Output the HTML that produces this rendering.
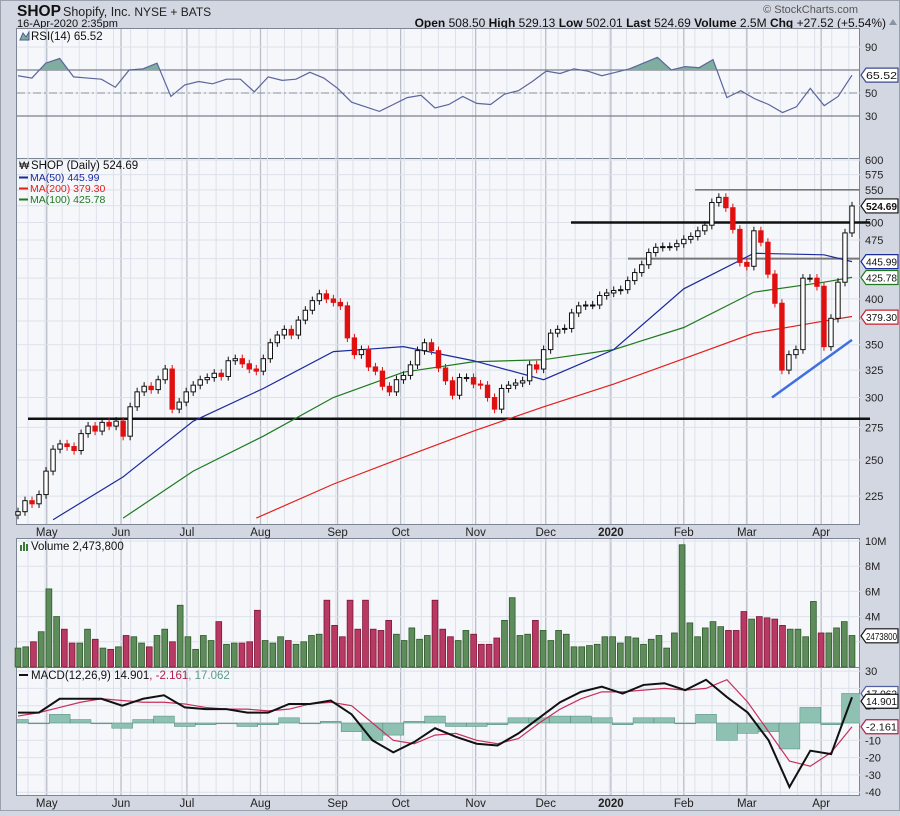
<!DOCTYPE html>
<html><head><meta charset="utf-8">
<style>
html,body{margin:0;padding:0;background:#d3d7e1;}
body{width:900px;height:811px;overflow:hidden;font-family:"Liberation Sans",sans-serif;}
svg text{font-family:"Liberation Sans",sans-serif;}
</style></head>
<body>
<svg id="chart" width="900" height="811" viewBox="0 0 900 811" xmlns="http://www.w3.org/2000/svg">
<rect x="0.5" y="0.5" width="899" height="810" fill="#d3d7e1" stroke="#9aa0ad"/>
<text x="17" y="16" font-size="15.5" font-weight="bold" fill="#111">SHOP</text>
<text x="63" y="16" font-size="12.5" fill="#222">Shopify, Inc. <tspan font-size="12">NYSE + BATS</tspan></text>
<text x="17" y="27" font-size="11" fill="#111">16-Apr-2020 2:35pm</text>
<text x="886" y="27" font-size="12" fill="#111" text-anchor="end"><tspan font-weight="bold">Open</tspan> 508.50  <tspan font-weight="bold">High</tspan> 529.13  <tspan font-weight="bold">Low</tspan> 502.01  <tspan font-weight="bold">Last</tspan> 524.69  <tspan font-weight="bold">Volume</tspan> 2.5M  <tspan font-weight="bold">Chg</tspan> +27.52 (+5.54%)</text>
<path d="M889 25 L897 25 L893 19 Z" fill="#8a93a6"/>
<text x="858" y="13" font-size="11" fill="#555" text-anchor="end">© StockCharts.com</text>
<g id="layers"></g>
</svg>
<script>
// ---------- data ----------
const priceClose = [215,222,220,226,242,258,262,260,257,270,276,272,279,276,280,268,292,305,310,307,316,326,290,296,305,311,316,318,322,319,334,336,331,326,324,336,352,360,366,360,376,387,398,406,400,396,392,357,340,345,328,324,310,305,316,320,330,344,352,344,327,315,302,318,318,312,311,300,290,308,311,313,315,330,326,345,362,366,367,384,392,393,393,404,407,410,411,422,432,442,458,465,466,466,470,476,480,488,496,530,538,522,490,445,440,488,472,430,395,325,340,345,425,425,415,348,378,420,485,524.69];
const ma50Idx = [5,15,25,35,45,55,65,75,85,95,105,115,119];
const ma50 = [210,238,280,308,343,348,334,316,345,412,457,455,446];
const ma100Idx = [15,25,35,45,55,65,75,85,95,105,115,119];
const ma100 = [211,242,268,300,323,333,335,345,368,408,420,426];
const ma200Idx = [34,45,55,65,75,85,95,105,115,119];
const ma200 = [211,233,252,272,292,312,336,362,375,380];
const rsi = [65,63,76,80,64,63,62,55,70,71,76,47,57,60,58,62,62,51,64,61,62,68,63,54,42,38,34,40,46,48,37,40,47,41,40,49,52,60,69,67,71,69,65,68,71,76,81,70,73,72,79,46,52,45,40,33,38,54,39,47,65.5];
const volume = [1.5,1.6,2.0,2.8,6.2,4.0,3.0,1.9,1.9,3.0,2.2,1.5,1.4,1.6,2.5,2.4,1.9,1.6,2.5,3.0,2.0,4.9,2.4,1.4,2.5,2.1,3.6,1.8,1.9,1.9,2.0,4.5,2.1,1.9,2.4,2.1,1.8,2.0,2.5,2.6,5.3,3.3,2.4,5.3,3.0,5.3,3.0,2.9,3.7,2.6,2.1,3.1,2.2,2.5,5.3,3.0,2.4,2.1,2.9,2.6,1.8,1.8,2.3,3.7,5.5,2.5,2.6,3.7,2.9,2.1,2.9,2.6,1.6,1.6,1.7,1.8,2.4,2.4,1.9,2.4,2.3,1.8,2.2,2.5,1.5,2.7,9.7,3.5,2.4,3.1,3.6,3.2,2.9,2.9,4.4,3.8,4.0,3.9,3.8,3.3,3.0,3.0,2.4,5.2,2.7,2.7,3.1,3.6,2.5];
const macd = [6,6,14,14,14,10,14,16,9,8,8,6,6,11,11,13,5,-10,-17,-11,-3,-8,-12,-13,-6,3,12,18,21,17,22,23,19,25,15,6,-10,-37,-16,-18,14.9];
const signal = [4,6,9,12,14,13,12,12,11,9,8,8,7,8,11,12,10,0,-10,-12,-7,-6,-10,-12,-9,0,8,14,18,18,19,20,19,20,25,12,-5,-22,-25,-17,-2.16];
const monthIdx = [4.1,14.7,24.1,34.6,45.6,54.6,65.3,75.3,84.6,95,104,114.6];
const monthLabels = ["May","Jun","Jul","Aug","Sep","Oct","Nov","Dec","2020","Feb","Mar","Apr"];
const priceTicks = [600,575,550,525,500,475,450,425,400,375,350,325,300,275,250,225];
const rsiTicks = [90,70,50,30];
const volTicks = [10,8,6,4,2];
const macdTicks = [30,20,10,0,-10,-20,-30,-40];

// ---------- geometry ----------
const L=17, R=860;
const X0=18, X1=852;
const P={rsiT:28,rsiB:158,priT:158,priB:524,volT:538,volB:667,macT:667,macB:795};
const NS='http://www.w3.org/2000/svg';
const layers=document.getElementById('layers');
function el(tag,attrs,parent){const e=document.createElementNS(NS,tag);for(const k in attrs)e.setAttribute(k,attrs[k]);(parent||layers).appendChild(e);return e;}
function xAt(i,len){return X0+i*(X1-X0)/(len-1);}
const xBar=i=>xAt(i,priceClose.length);
const yPrice=p=>160+789*Math.log10(600/p);
const yRsi=v=>70-(v-70)*1.15;
const yVol=v=>667-v*12.6;
const yMacd=v=>723-v*1.73;

// panels
const panels=[['rsi-panel',P.rsiT,P.rsiB],['price-panel',P.priT,P.priB],['volume-panel',P.volT,P.volB],['macd-panel',P.macT,P.macB]];
panels.forEach(([n,t,b])=>{const r=el('rect',{x:L-0.5,y:t+0.5,width:R-L,height:b-t,fill:'#f5f7fb',stroke:'#7d8595'});});
const mclip=el('clipPath',{id:'macdclip'});el('rect',{x:L,y:P.macT,width:R-L,height:P.macB-P.macT},mclip);

// vertical grid
const grid=el('g',{});


for(let x=L+11;x<R;x+=17.1){[[P.rsiT,P.priB],[P.volT,P.macB]].forEach(([t,b])=>el('line',{x1:x,y1:t+1,x2:x,y2:b,stroke:'#dde1ea','stroke-width':1},grid));}
monthIdx.forEach((mi,k)=>{const x=xBar(mi);[[P.rsiT,P.priB],[P.volT,P.macB]].forEach(([t,b])=>el('line',{x1:x,y1:t+1,x2:x,y2:b,stroke:'#b9bec9','stroke-width':1.3},grid));
 [532,803].forEach(y=>{const t=el('text',{x:x,y:y+4,'font-size':11.5,'text-anchor':'middle',fill:'#222','font-weight':k===8?'bold':'normal'});t.textContent=monthLabels[k];});});

// horizontal grids + axis labels
function hgrid(ticks,yf,fmt,name,skip){ticks.forEach(v=>{const y=yf(v);el('line',{x1:L,y1:y,x2:R,y2:y,stroke:'#dde1ea'});
 if(skip&&skip.includes(v))return;const t=el('text',{x:R+5,y:y+4,'font-size':11,fill:'#222'});t.textContent=fmt(v);});}
hgrid(priceTicks,yPrice,v=>v,'price-tick',[525,450,425,375]);
hgrid(rsiTicks,yRsi,v=>v,'rsi-tick',[70]);
hgrid(volTicks,yVol,v=>v+'M','volume-tick',[2]);
hgrid(macdTicks,yMacd,v=>v,'macd-tick',[20]);

// RSI
[70,30].forEach(v=>el('line',{x1:L,y1:yRsi(v),x2:R,y2:yRsi(v),stroke:'#7a7f8c','stroke-width':1.2}));
el('line',{x1:L,y1:yRsi(50),x2:R,y2:yRsi(50),stroke:'#8a8f9a','stroke-dasharray':'8,3,2,3'});
const rsiPts=rsi.map((v,i)=>[xAt(i,rsi.length),yRsi(v)]);
const clip=el('clipPath',{id:'above70'});el('rect',{x:L,y:P.rsiT,width:R-L,height:yRsi(70)-P.rsiT},clip);
const rsiFill=el('path',{d:'M'+rsiPts[0][0]+','+yRsi(70)+' '+rsiPts.map(p=>'L'+p[0]+','+p[1]).join(' ')+' L'+rsiPts[rsiPts.length-1][0]+','+yRsi(70)+'Z',fill:'#7fae9f','clip-path':'url(#above70)'});

const rsiLine=el('polyline',{points:rsiPts.map(p=>p.join(',')).join(' '),fill:'none',stroke:'#5b659c','stroke-width':1.2});


// Price: reference lines
function hl(y,x1,x2,c,w,name){const l=el('line',{x1:x1,y1:y,x2:x2,y2:y,stroke:c,'stroke-width':w});}
hl(yPrice(282),28,870,'#111',2.5,'support-line-282');
hl(yPrice(500),571,870,'#111',2.5,'resistance-line-500');
hl(yPrice(450),628,860,'#777',2,'level-line-450');
hl(yPrice(550),695,860,'#777',1.6,'level-line-550');
const tl=el('line',{x1:772,y1:yPrice(300),x2:852,y2:yPrice(355),stroke:'#3f6fe0','stroke-width':2.5});


// MAs
function maLine(idx,vals,c,name){const l=el('polyline',{points:idx.map((ix,k)=>xBar(ix)+','+yPrice(vals[k])).join(' '),fill:'none',stroke:c,'stroke-width':1.2});}
maLine(ma200Idx,ma200,'#e3201c','ma200-line');
maLine(ma100Idx,ma100,'#1f7a1f','ma100-line');
maLine(ma50Idx,ma50,'#1c2a9c','ma50-line');

// candles
const cg=el('g',{});
priceClose.forEach((c,i)=>{const o=i?priceClose[i-1]:c*0.99;const up=c>=o;const x=xBar(i);
 const hi=Math.max(o,c)*1.012, lo=Math.min(o,c)*0.988;const col=up?'#111':'#e01010';
 el('line',{x1:x,y1:yPrice(hi),x2:x,y2:yPrice(lo),stroke:col,'stroke-width':1},cg);
 const yt=yPrice(Math.max(o,c)),yb=yPrice(Math.min(o,c));
 const b=el('rect',{x:x-2.2,y:yt,width:4.4,height:Math.max(1,yb-yt),fill:up?'#fff':'#e01010',stroke:col,'stroke-width':1},cg);
 });

// Volume
volume.forEach((v,i)=>{const pi=Math.round(i*(priceClose.length-1)/(volume.length-1));const up=pi===0||priceClose[pi]>=priceClose[pi-1];
 const x=xAt(i,volume.length);const r=el('rect',{x:x-2.9,y:yVol(v),width:5.8,height:667-yVol(v),fill:up?'#5e8c5a':'#b83a63',stroke:up?'#2f5a2c':'#7e1438','stroke-width':0.8});
 });

// MACD
const hg=el('g',{'clip-path':'url(#macdclip)'});


const hw=(X1-X0)/(macd.length-1);
macd.forEach((m,i)=>{const h=m-signal[i];const x=xAt(i,macd.length);const y0=yMacd(0),y1=yMacd(h);
 const r=el('rect',{x:x-hw/2,y:Math.min(y0,y1),width:hw,height:Math.max(0.8,Math.abs(y1-y0)),fill:'#8fc1b3',stroke:'#4f8a79','stroke-width':0.5},hg);
 });
const sl=el('polyline',{points:signal.map((v,i)=>xAt(i,signal.length)+','+yMacd(v)).join(' '),fill:'none',stroke:'#c8305a','stroke-width':1.2});

const ml=el('polyline',{points:macd.map((v,i)=>xAt(i,macd.length)+','+yMacd(v)).join(' '),fill:'none',stroke:'#111','stroke-width':2});


// panel legends
function txt(x,y,s,c,sz,name,bold){const t=el('text',{x:x,y:y,'font-size':sz||11,fill:c||'#111','font-weight':bold?'bold':'normal'});t.textContent=s;return t;}
txt(31,40,'RSI(14) 65.52','#111',11.5,'rsi-legend');
el('path',{d:'M20 40 L23 33 L26 37 L29 32 L29 40Z',fill:'#7fae9f',stroke:'#4a5a8a'});
txt(31,169,'SHOP (Daily) 524.69','#111',11.5,'price-legend');
txt(19,169,'₩','#111',11,'price-legend-icon');
txt(30,181,'MA(50) 445.99','#1c2a9c',10.5,'ma50-legend');
txt(30,192,'MA(200) 379.30','#e3201c',10.5,'ma200-legend');
txt(30,203,'MA(100) 425.78','#1f7a1f',10.5,'ma100-legend');
[[181,'#1c2a9c'],[192,'#e3201c'],[203,'#1f7a1f']].forEach(([y,c])=>el('line',{x1:19,y1:y-3.5,x2:28,y2:y-3.5,stroke:c,'stroke-width':2}));
el('path',{d:'M20 551 h2 v-6 h-2Z M23 551 h2 v-9 h-2Z M26 551 h2 v-7 h-2Z',fill:'#3d7a3a'});
txt(31,550,'Volume 2,473,800','#111',11.5,'volume-legend');
el('line',{x1:19,y1:675,x2:28,y2:675,stroke:'#111','stroke-width':2});
const mt=txt(31,679,'MACD(12,26,9) 14.901','#111',11.5,'macd-legend');
const t2=el('tspan',{fill:'#b0204a'},mt);t2.textContent=', -2.161';
const t3=el('tspan',{fill:'#5b9a8a'},mt);t3.textContent=', 17.062';

// value tags on right axis
function tag(y,s,stroke,name,fill,bold){const g=el('g',{});
 el('path',{d:`M${R+1} ${y} L${R+6} ${y-7} L898 ${y-7} L898 ${y+7} L${R+6} ${y+7}Z`,fill:fill||'#fff',stroke:stroke,'stroke-width':1.2},g);
 const t=el('text',{x:R+6,y:y+4,'font-size':10.5,fill:'#111','font-weight':bold?'bold':'normal',textLength:31,lengthAdjust:'spacingAndGlyphs'},g);t.textContent=s;}
tag(yPrice(445.99),'445.99','#1c2a9c','ma50-value-tag');
tag(yPrice(425.78),'425.78','#1f7a1f','ma100-value-tag');
tag(yPrice(379.30),'379.30','#c8202c','ma200-value-tag');
tag(yPrice(524.69),'524.69','#111','last-price-tag','#fff',true);
tag(yRsi(65.52),'65.52','#3c4a8a','rsi-value-tag');
tag(yVol(2.4738),'2473800','#111','volume-value-tag');
tag(yMacd(17.06),'17.062','#5060a0','macd-hist-value-tag');
tag(yMacd(14.901)+4,'14.901','#111','macd-value-tag');
tag(yMacd(-2.161),'-2.161','#b0204a','macd-signal-value-tag');
</script>
</body></html>
